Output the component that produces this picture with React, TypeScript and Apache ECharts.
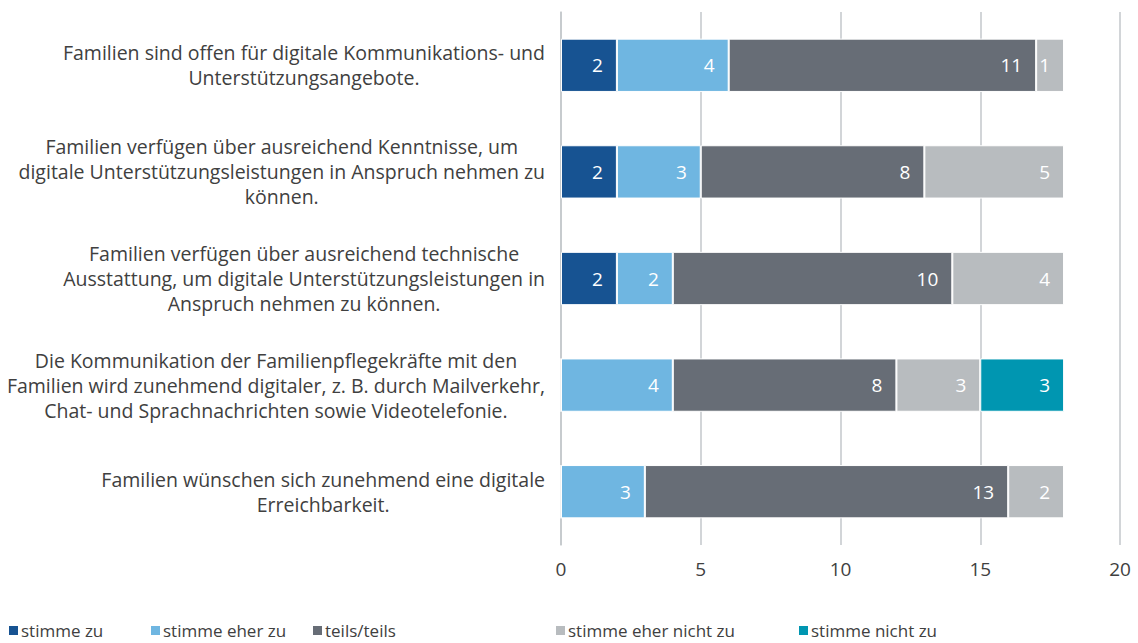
import React, { useEffect, useRef } from "react";
import * as echarts from "echarts";

const categories = [
  "Familien sind offen für digitale Kommunikations- und\nUnterstützungsangebote.",
  "Familien verfügen über ausreichend Kenntnisse, um\ndigitale Unterstützungsleistungen in Anspruch nehmen zu\nkönnen.",
  "Familien verfügen über ausreichend technische\nAusstattung, um digitale Unterstützungsleistungen in\nAnspruch nehmen zu können.",
  "Die Kommunikation der Familienpflegekräfte mit den\nFamilien wird zunehmend digitaler, z. B. durch Mailverkehr,\nChat- und Sprachnachrichten sowie Videotelefonie.",
  "Familien wünschen sich zunehmend eine digitale\nErreichbarkeit.",
];

const seriesNames = [
  "stimme zu",
  "stimme eher zu",
  "teils/teils",
  "stimme eher nicht zu",
  "stimme nicht zu",
];

const stimmeZu = [2, 2, 2, 0, 0];
const stimmeEherZu = [4, 3, 2, 4, 3];
const teilsTeils = [11, 8, 10, 8, 13];
const eherNicht = [1, 5, 4, 3, 2];
const nichtZu = [0, 0, 0, 3, 0];

const seriesValues = [stimmeZu, stimmeEherZu, teilsTeils, eherNicht, nichtZu];
const colors = ["#175392", "#6fb6e1", "#676d76", "#b8bcbf", "#0096b1"];
const legendLeft = [2, 144, 306, 549, 792];

const FONT = "Open Sans";
const TEXT = "#404040";

export default function App() {
  const ref = useRef<HTMLDivElement>(null);
  useEffect(() => {
    if (!ref.current) return;
    document.body.style.margin = "0";
    document.body.style.overflow = "hidden";
    const chart = echarts.init(ref.current, undefined, { renderer: "svg" });
    chart.setOption({
      animation: false,
      textStyle: { fontFamily: FONT },
      grid: { left: 561, right: 18, top: 12, bottom: 98 },
      xAxis: {
        type: "value",
        min: 0,
        max: 20,
        interval: 5,
        axisLine: { show: false },
        axisTick: { show: false },
        splitLine: { lineStyle: { color: "#c3c7cb", width: 1.5 } },
        axisLabel: { color: TEXT, fontSize: 19, margin: 14, fontFamily: FONT },
      },
      yAxis: {
        type: "category",
        inverse: true,
        data: categories,
        axisLine: { show: true, lineStyle: { color: "#c3c7cb", width: 1.5 } },
        axisTick: { show: false },
        axisLabel: {
          color: TEXT,
          fontSize: 19.5,
          margin: 16,
          lineHeight: 25,
          fontFamily: FONT,
          formatter: (v: string) =>
            v
              .split("\n")
              .map((l) => "{c|" + l + "}")
              .join("\n"),
          rich: {
            c: {
              align: "center",
              color: TEXT,
              fontSize: 19.5,
              lineHeight: 25,
              fontFamily: FONT,
            },
          },
        },
      },
      legend: seriesNames.map((n, i) => ({
        data: [n],
        left: legendLeft[i],
        top: 617,
        icon: "rect",
        itemWidth: 11,
        itemHeight: 11,
        itemGap: 0,
        textStyle: { color: TEXT, fontSize: 17, fontFamily: FONT, padding: [0, 0, 0, -3] },
        selectedMode: false,
      })),
      series: seriesNames.map((n, i) => ({
        name: n,
        type: "bar",
        stack: "total",
        barWidth: "50%",
        data: seriesValues[i],
        itemStyle: { color: colors[i], borderColor: "#ffffff", borderWidth: 1 },
        label: {
          show: true,
          position: "insideRight",
          color: "#ffffff",
          fontSize: 19,
          fontFamily: FONT,
          distance: 14,
          formatter: (p: any) => (p.value ? String(p.value) : ""),
        },
      })),
    });
    return () => chart.dispose();
  }, []);
  return (
    <div
      ref={ref}
      style={{ position: "absolute", left: 0, top: 0, width: 1138, height: 643 }}
    />
  );
}
